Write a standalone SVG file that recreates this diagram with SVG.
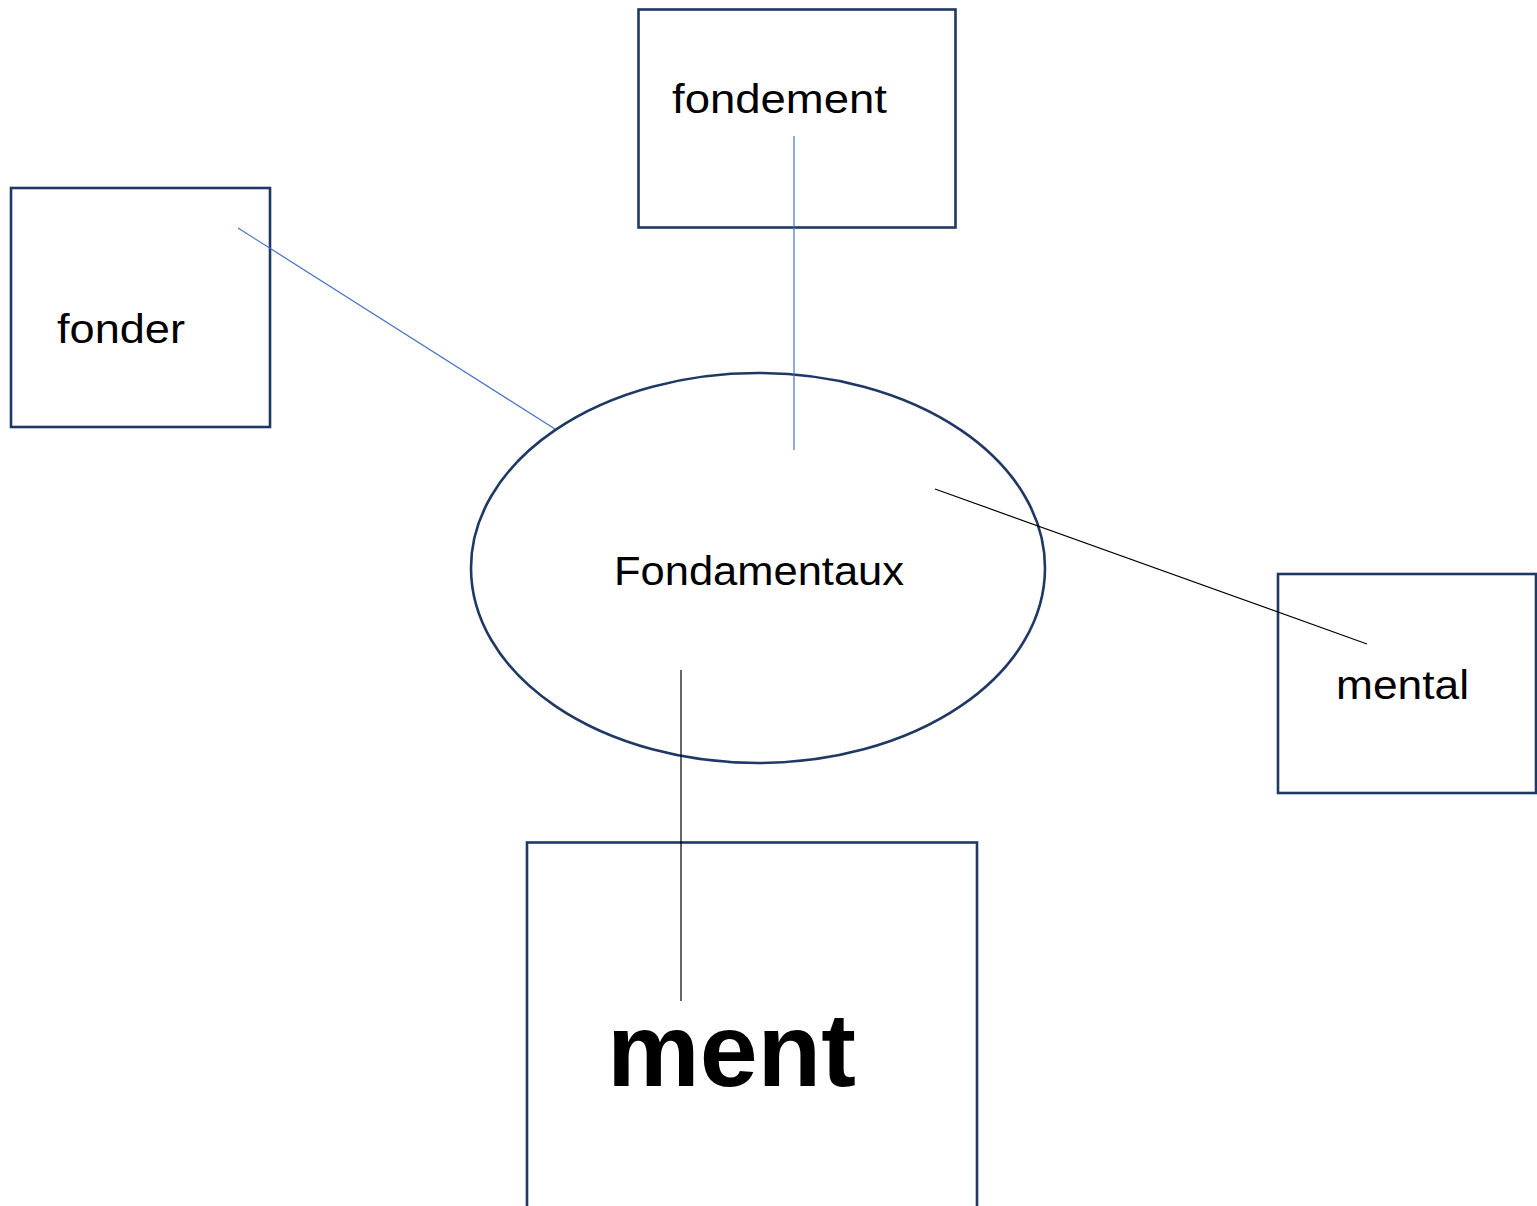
<svg xmlns="http://www.w3.org/2000/svg" width="1537" height="1206" viewBox="0 0 1537 1206">
<style>
.box{fill:#fff;stroke:#1f3864;stroke-width:2.6}
.lbl{font-family:"Liberation Sans","Open Sans",sans-serif;font-size:40px;fill:#000}
.big{font-family:"Liberation Sans","Open Sans",sans-serif;font-size:104px;font-weight:bold;fill:#000}
.blue{stroke:#4472c4;stroke-width:1.2;fill:none}
.blk{stroke:#000;stroke-width:1.2;fill:none}
</style>
<rect width="1537" height="1206" fill="#fff"/>
<g id="node-fondement">
<rect class="box" x="638.5" y="9.5" width="317" height="218"/>
<text class="lbl" x="672" y="113" textLength="215" lengthAdjust="spacingAndGlyphs">fondement</text>
</g>
<g id="node-fonder">
<rect class="box" x="11" y="188" width="259" height="239"/>
<text class="lbl" x="57" y="343" textLength="128" lengthAdjust="spacingAndGlyphs">fonder</text>
</g>
<g id="node-mental">
<rect class="box" x="1278" y="574" width="258" height="219"/>
<text class="lbl" x="1336" y="699" textLength="133" lengthAdjust="spacingAndGlyphs">mental</text>
</g>
<g id="node-ment">
<rect class="box" x="527" y="842.5" width="450" height="370"/>
<text class="big" x="607" y="1086" textLength="249" lengthAdjust="spacingAndGlyphs">ment</text>
</g>
<g id="node-fondamentaux">
<ellipse class="box" cx="758" cy="568" rx="287" ry="195"/>
<text class="lbl" x="614" y="585" textLength="290" lengthAdjust="spacingAndGlyphs">Fondamentaux</text>
</g>
<g id="connectors">
<line class="blue" x1="238" y1="228" x2="555" y2="429"/>
<line class="blue" x1="794" y1="136" x2="794" y2="450"/>
<line class="blk" x1="935" y1="489" x2="1367" y2="644"/>
<line class="blk" x1="681" y1="670" x2="681" y2="1001"/>
</g>
</svg>
